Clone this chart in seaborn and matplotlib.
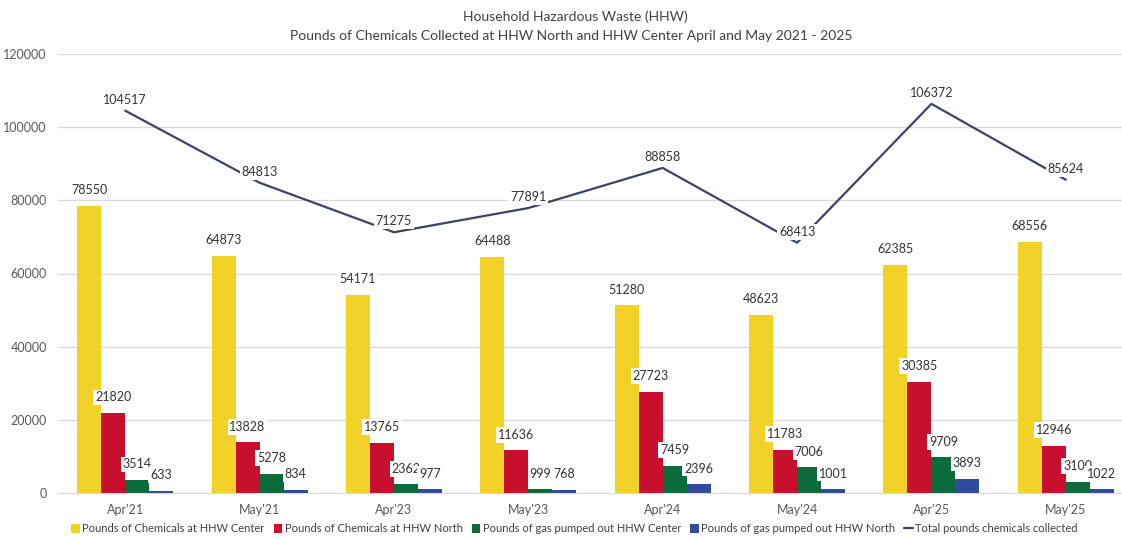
import numpy as np
import pandas as pd
import matplotlib
matplotlib.use("Agg")
import matplotlib.pyplot as plt
import seaborn as sns
from matplotlib.lines import Line2D
from matplotlib.patches import Patch

categories = ["Apr'21", "May'21", "Apr'23", "May'23", "Apr'24", "May'24", "Apr'25", "May'25"]
chem_center = [78550, 64873, 54171, 64488, 51280, 48623, 62385, 68556]
chem_north = [21820, 13828, 13765, 11636, 27723, 11783, 30385, 12946]
gas_center = [3514, 5278, 2362, 999, 7459, 7006, 9709, 3100]
gas_north = [633, 834, 977, 768, 2396, 1001, 3893, 1022]
total = [104517, 84813, 71275, 77891, 88858, 68413, 106372, 85624]

series_names = ["Pounds of Chemicals at HHW Center", "Pounds of Chemicals at HHW North",
                "Pounds of gas pumped out HHW Center", "Pounds of gas pumped out HHW North"]
line_name = "Total pounds chemicals collected"
colors = ["#F2D129", "#C8102E", "#0B6B3A", "#2F4B9B"]
line_color = "#3D4363"

rows = []
for name, vals in zip(series_names, [chem_center, chem_north, gas_center, gas_north]):
    for c, v in zip(categories, vals):
        rows.append({"cat": c, "series": name, "value": v})
df = pd.DataFrame(rows)

sns.set_style("white")
plt.rcParams['font.family'] = ['Lato', 'DejaVu Sans']

fig = plt.figure(figsize=(11.22, 5.39), dpi=100)
ax = fig.add_axes([58 / 1122, 46 / 539, 1075 / 1122, 439 / 539])

sns.barplot(data=df, x="cat", y="value", hue="series", order=categories,
            hue_order=series_names, palette=colors, width=0.715, saturation=1,
            ax=ax, legend=False, linewidth=0, zorder=2)

for cont in ax.containers:
    ax.bar_label(cont, labels=[f"{int(v)}" for v in cont.datavalues], padding=7,
                 fontsize=9, color="#333333", zorder=5,
                 bbox=dict(boxstyle="square,pad=0.15", fc="white", ec="none"))

xpos = np.arange(len(categories))
sns.lineplot(x=xpos, y=total, color=line_color, linewidth=1.6, ax=ax, zorder=3)
for x, v in zip(xpos, total):
    ax.annotate(f"{v}", (x, v), xytext=(0, 3.5), textcoords="offset points",
                ha="center", va="bottom", fontsize=9, color="#333333", zorder=6,
                bbox=dict(boxstyle="square,pad=0.15", fc="white", ec="none"))

ax.set_ylim(0, 120000)
ax.set_yticks(np.arange(0, 120001, 20000))
ax.set_xlim(-0.5, len(categories) - 0.5)
ax.yaxis.grid(True, color="#D9D9D9", linewidth=0.9, zorder=0)
ax.set_axisbelow(True)
for s in ["top", "right", "left"]:
    ax.spines[s].set_visible(False)
ax.spines["bottom"].set_color("#D9D9D9")
ax.tick_params(axis="both", length=0, labelsize=9, colors="#595959", pad=8)
ax.set_xlabel("")
ax.set_ylabel("")

fig.text(0.513, 1 - 17 / 539, "Household Hazardous Waste (HHW)", ha="center", va="center",
         fontsize=10, color="#404040")
fig.text(0.509, 1 - 36 / 539,
         "Pounds of Chemicals Collected at HHW North and HHW Center April and May 2021 - 2025",
         ha="center", va="center", fontsize=10, color="#404040")

handles = [Patch(facecolor=c, edgecolor="none") for c in colors]
handles.append(Line2D([0], [0], color=line_color, linewidth=1.6))
fig.legend(handles, series_names + [line_name], loc="center", bbox_to_anchor=(0.512, 1 - 529 / 539),
           ncol=5, frameon=False, fontsize=8, labelcolor="#404040", handlelength=0.8,
           handleheight=0.8, handletextpad=0.2, columnspacing=0.8)

fig.savefig("out.png", dpi=100)
